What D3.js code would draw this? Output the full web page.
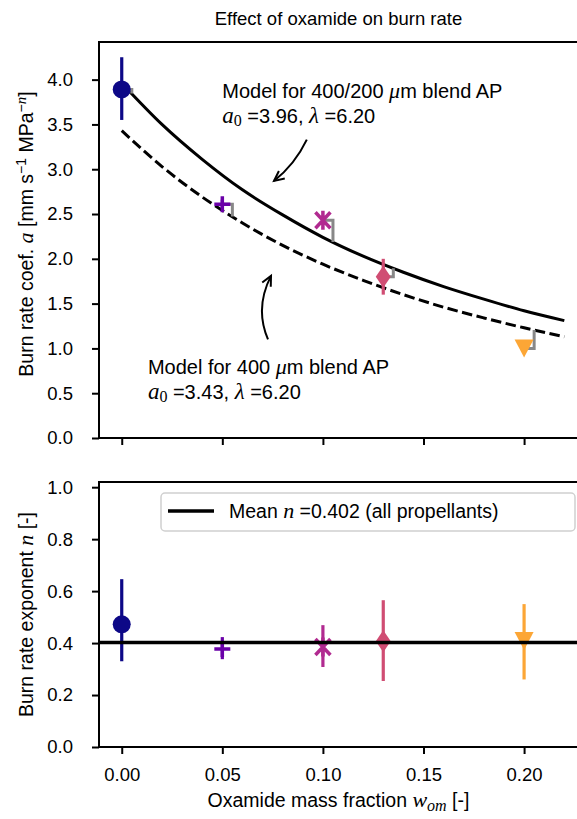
<!DOCTYPE html>
<html>
<head>
<meta charset="utf-8">
<script src="https://cdn.jsdelivr.net/npm/d3@7"></script>
<style>
  body { margin: 0; background: #fff; }
  text { font-family: "Liberation Sans", Arial, Helvetica, sans-serif; fill: #000; }
  .math { font-family: "Liberation Serif", "DejaVu Serif", serif; font-style: italic; }
</style>
</head>
<body>
<svg id="chart" width="577" height="819"></svg>
<script>
// propellants (oxamide mass fraction) and measured values
const wom = [0, 0.05, 0.10, 0.13, 0.20];
const burnCoef = [3.89, 2.61, 2.43, 1.80, 1.00];
const burnCoefLo = [3.55, 2.56, 2.38, 1.60, 0.95];
const burnCoefHi = [4.25, 2.66, 2.48, 2.00, 1.05];
const burnExp = [0.472, 0.377, 0.385, 0.407, 0.408];
const burnExpLo = [0.33, 0.338, 0.308, 0.254, 0.26];
const burnExpHi = [0.646, 0.423, 0.469, 0.565, 0.55];
const markerShapes = ['circle', 'plus', 'asterisk', 'thinDiamond', 'triangleDown'];
const modelUsed = ['blend', 'single', 'blend', 'blend', 'single'];

// model curves
const modelW = [0, 0.02, 0.04, 0.06, 0.08, 0.10, 0.12, 0.14, 0.16, 0.18, 0.20, 0.22];
const modelBlend = [3.96, 3.50, 3.11, 2.77, 2.49, 2.24, 2.03, 1.85, 1.69, 1.55, 1.42, 1.31];
const modelSingle = [3.43, 3.03, 2.69, 2.40, 2.15, 1.94, 1.76, 1.60, 1.46, 1.34, 1.23, 1.13];

const meanN = 0.402;
const xTicks = [0, 0.05, 0.10, 0.15, 0.20];
const aTicks = [0, 0.5, 1.0, 1.5, 2.0, 2.5, 3.0, 3.5, 4.0];
const nTicks = [0, 0.2, 0.4, 0.6, 0.8, 1.0];

const svg = d3.select('#chart');
svg.append('rect').attr('width', 577).attr('height', 819).attr('fill', '#fff');

const left = 99;
const right = 578;
const labelSize = '19.5px';
const x = d3.scaleLinear().domain([-0.0113, 0.2268]).range([left, right]);
const yTop = d3.scaleLinear().domain([0, 4.42]).range([438, 42]);
const yBot = d3.scaleLinear().domain([0, 1.02]).range([747, 482]);
const color = (w) => d3.interpolatePlasma(w / 0.25);
const modelScale = {
  blend: d3.scaleLinear().domain(modelW).range(modelBlend),
  single: d3.scaleLinear().domain(modelW).range(modelSingle),
};

function styleAxis(g) {
  g.select('.domain').remove();
  g.selectAll('.tick line').attr('stroke', '#000').attr('stroke-width', 2);
  g.selectAll('.tick text').style('font-size', '18.5px').attr('fill', '#000');
}

function AppendFrame(y) {
  const [y0, y1] = y.range();
  svg.append('path')
    .attr('d', `M${right},${y1}H${left}V${y0}H${right}`)
    .attr('fill', 'none')
    .attr('stroke', '#000')
    .attr('stroke-width', 2);
}

// ---------- top panel ----------
svg.append('g')
  .attr('transform', `translate(${left},0)`)
  .call(d3.axisLeft(yTop).tickValues(aTicks).tickFormat(d3.format('.1f')).tickSize(7).tickPadding(19))
  .call(styleAxis);
svg.append('g')
  .attr('transform', `translate(0,${yTop.range()[0]})`)
  .call(d3.axisBottom(x).tickValues(xTicks).tickFormat('').tickSize(7))
  .call(styleAxis);

const curve = d3.line().x((d) => x(d[0])).y((d) => yTop(d[1])).curve(d3.curveMonotoneX);
svg.append('path')
  .attr('d', curve(d3.zip(modelW, modelBlend)))
  .attr('fill', 'none').attr('stroke', '#000').attr('stroke-width', 3);
svg.append('path')
  .attr('d', curve(d3.zip(modelW, modelSingle)))
  .attr('fill', 'none').attr('stroke', '#000').attr('stroke-width', 3)
  .attr('stroke-dasharray', '10.5,4.5');

// gray residual connectors
wom.forEach((w, i) => {
  const xe = w + 0.005;
  const modelVal = modelScale[modelUsed[i]](xe);
  svg.append('path')
    .attr('d', `M${x(w)},${yTop(burnCoef[i])}H${x(xe)}V${yTop(modelVal)}`)
    .attr('fill', 'none').attr('stroke', '#888').attr('stroke-width', 3);
});

function drawMarker(shape, cx, cy, fill) {
  const g = svg.append('g').attr('transform', `translate(${cx},${cy})`);
  if (shape === 'circle') {
    g.append('circle').attr('r', 9).attr('fill', fill);
  } else if (shape === 'plus') {
    g.append('path').attr('d', 'M-8,0H8M0,-8V8')
      .attr('stroke', fill).attr('stroke-width', 3.5);
  } else if (shape === 'asterisk') {
    g.append('path').attr('d', 'M0,-9.5V9.5M-7.5,-8L7.5,8M-7.5,8L7.5,-8')
      .attr('stroke', fill).attr('stroke-width', 3.5);
  } else if (shape === 'thinDiamond') {
    g.append('path').attr('d', 'M0,-11L7.5,0L0,11L-7.5,0Z').attr('fill', fill);
  } else if (shape === 'triangleDown') {
    g.append('path').attr('d', 'M-9.5,-9L9.5,-9L0,9Z').attr('fill', fill);
  }
}

function drawPoints(y, vals, lo, hi) {
  wom.forEach((w, i) => {
    svg.append('line')
      .attr('x1', x(w)).attr('x2', x(w))
      .attr('y1', y(lo[i])).attr('y2', y(hi[i]))
      .attr('stroke', color(w)).attr('stroke-width', 3.2);
    drawMarker(markerShapes[i], x(w), y(vals[i]), color(w));
  });
}
drawPoints(yTop, burnCoef, burnCoefLo, burnCoefHi);
AppendFrame(yTop);

// annotations
function AppendAnnotation(wx, ay, label, a0, lam) {
  const t1 = svg.append('text').attr('x', x(wx)).attr('y', yTop(ay)).style('font-size', '20px');
  t1.append('tspan').text(label[0]);
  t1.append('tspan').attr('class', 'math').style('font-size', '22px').text('\u03bc');
  t1.append('tspan').text(label[1]);
  const t2 = svg.append('text').attr('x', x(wx)).attr('y', yTop(ay - 0.27)).style('font-size', '20px');
  t2.append('tspan').attr('class', 'math').style('font-size', '23px').text('a');
  t2.append('tspan').attr('class', 'math').style('font-style', 'normal').style('font-size', '16px')
    .attr('dy', 3).text('0');
  t2.append('tspan').attr('dy', -3).text(` =${a0}, `);
  t2.append('tspan').attr('class', 'math').style('font-size', '23px').text('\u03bb');
  t2.append('tspan').text(` =${lam}`);
}
AppendAnnotation(0.05, 3.79, ['Model for 400/200 ', 'm blend AP'], '3.96', '6.20');
AppendAnnotation(0.013, 0.71, ['Model for 400 ', 'm blend AP'], '3.43', '6.20');

function AppendArrow(p0, pc, p1) {
  const [x0, y0] = [x(p0[0]), yTop(p0[1])];
  const [xc, yc] = [x(pc[0]), yTop(pc[1])];
  const [x1, y1] = [x(p1[0]), yTop(p1[1])];
  svg.append('path')
    .attr('d', `M${x0},${y0}Q${xc},${yc} ${x1},${y1}`)
    .attr('fill', 'none').attr('stroke', '#000').attr('stroke-width', 2);
  const ang = Math.atan2(y1 - yc, x1 - xc);
  const len = 11;
  const spread = 0.45;
  const h1 = [x1 - len * Math.cos(ang - spread), y1 - len * Math.sin(ang - spread)];
  const h2 = [x1 - len * Math.cos(ang + spread), y1 - len * Math.sin(ang + spread)];
  svg.append('path')
    .attr('d', `M${h1[0]},${h1[1]}L${x1},${y1}L${h2[0]},${h2[1]}`)
    .attr('fill', 'none').attr('stroke', '#000').attr('stroke-width', 2);
}
AppendArrow([0.092, 3.33], [0.086, 3.05], [0.0757, 2.87]);
AppendArrow([0.0727, 1.10], [0.066, 1.45], [0.0742, 1.81]);

// title
svg.append('text')
  .attr('x', (left + right) / 2).attr('y', 25)
  .attr('text-anchor', 'middle').style('font-size', '18.5px')
  .text('Effect of oxamide on burn rate');

// y label top
const yl1 = svg.append('text')
  .attr('transform', `translate(33,${(yTop.range()[0] + yTop.range()[1]) / 2 - 6}) rotate(-90)`)
  .attr('text-anchor', 'middle').style('font-size', labelSize);
yl1.append('tspan').text('Burn rate coef. ');
yl1.append('tspan').attr('class', 'math').style('font-size', '22px').text('a');
yl1.append('tspan').text(' [mm s');
yl1.append('tspan').attr('dy', -7).style('font-size', '14px').text('\u22121');
yl1.append('tspan').attr('dy', 7).text(' MPa');
yl1.append('tspan').attr('dy', -7).style('font-size', '14px').text('\u2212');
yl1.append('tspan').attr('class', 'math').style('font-size', '15px').text('n');
yl1.append('tspan').attr('dy', 7).text(']');

// ---------- bottom panel ----------
svg.append('g')
  .attr('transform', `translate(${left},0)`)
  .call(d3.axisLeft(yBot).tickValues(nTicks).tickFormat(d3.format('.1f')).tickSize(7).tickPadding(19))
  .call(styleAxis);
svg.append('g')
  .attr('transform', `translate(0,${yBot.range()[0]})`)
  .call(d3.axisBottom(x).tickValues(xTicks).tickFormat(d3.format('.2f')).tickSize(7).tickPadding(14))
  .call(styleAxis);

drawPoints(yBot, burnExp, burnExpLo, burnExpHi);
svg.append('line')
  .attr('x1', left).attr('x2', right)
  .attr('y1', yBot(meanN)).attr('y2', yBot(meanN))
  .attr('stroke', '#000').attr('stroke-width', 3.5);
AppendFrame(yBot);

// legend
const legend = svg.append('g').attr('transform', 'translate(161,493)');
legend.append('rect')
  .attr('width', 414).attr('height', 38).attr('rx', 4)
  .attr('fill', '#fff').attr('fill-opacity', 0.8)
  .attr('stroke', '#d0d0d0').attr('stroke-width', 1.5);
legend.append('line')
  .attr('x1', 7).attr('x2', 53).attr('y1', 18).attr('y2', 18)
  .attr('stroke', '#000').attr('stroke-width', 3.5);
const lt = legend.append('text').attr('x', 68).attr('y', 25).style('font-size', labelSize);
lt.append('tspan').text('Mean ');
lt.append('tspan').attr('class', 'math').style('font-size', '22px').text('n');
lt.append('tspan').text(` =${meanN.toFixed(3)} (all propellants)`);

// y label bottom
const yl2 = svg.append('text')
  .attr('transform', `translate(33,${(yBot.range()[0] + yBot.range()[1]) / 2}) rotate(-90)`)
  .attr('text-anchor', 'middle').style('font-size', labelSize);
yl2.append('tspan').text('Burn rate exponent ');
yl2.append('tspan').attr('class', 'math').style('font-size', '22px').text('n');
yl2.append('tspan').text(' [-]');

// x label
const xl = svg.append('text')
  .attr('x', (left + right) / 2).attr('y', 807)
  .attr('text-anchor', 'middle').style('font-size', labelSize);
xl.append('tspan').text('Oxamide mass fraction ');
xl.append('tspan').attr('class', 'math').style('font-size', '22px').text('w');
xl.append('tspan').attr('class', 'math').style('font-size', '16px').attr('dy', 4).text('om');
xl.append('tspan').attr('dy', -4).text(' [-]');
</script>
</body>
</html>
